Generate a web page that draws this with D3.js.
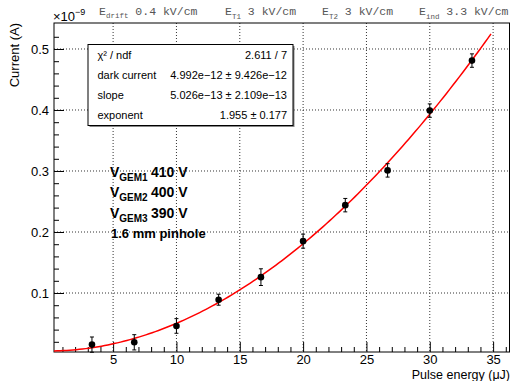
<!DOCTYPE html>
<html>
<head>
<meta charset="utf-8">
<script src="https://cdn.jsdelivr.net/npm/d3@7"></script>
<style>
  body { margin: 0; background: #fff; }
  svg { display: block; font-family: "Liberation Sans", Arial, sans-serif; }
</style>
</head>
<body>
<div id="chart"></div>
<script>
// measured points (current in units of 1e-9 A)
const energy = [3.33, 6.67, 10, 13.33, 16.67, 20, 23.33, 26.67, 30, 33.33];
const current = [0.0154, 0.0192, 0.046, 0.089, 0.126, 0.185, 0.244, 0.301, 0.399, 0.481];
const currentErr = [0.0125, 0.0125, 0.012, 0.009, 0.0137, 0.0115, 0.011, 0.011, 0.011, 0.011];

// fit parameters from the stats box: dark + slope * E^exponent
const fitParams = [4.992e-3, 5.026e-4, 1.955];
const fitRange = [0.333, 35];

const xTicks = [5, 10, 15, 20, 25, 30, 35];
const yTicks = [0.1, 0.2, 0.3, 0.4, 0.5];

const statsRows = [
  ["χ² / ndf", "2.611 / 7"],
  ["dark current", "4.992e−12 ± 9.426e−12"],
  ["slope", "5.026e−13 ± 2.109e−13"],
  ["exponent", "1.955 ± 0.177"]
];
const fields = [
  ["drift", "0.4 kV/cm"],
  ["T1", "3 kV/cm"],
  ["T2", "3 kV/cm"],
  ["ind", "3.3 kV/cm"]
];
const gemLines = [["GEM1", "410 V"], ["GEM2", "400 V"], ["GEM3", "390 V"]];

const width = 511, height = 381;
const margin = {top: 23, right: 1, bottom: 29, left: 54};
const w = width - margin.left - margin.right;
const h = height - margin.top - margin.bottom;

const svg = d3.select("#chart").append("svg")
  .attr("width", width)
  .attr("height", height);

const g = svg.append("g")
  .attr("transform", "translate(" + margin.left + "," + margin.top + ")");

const x = d3.scaleLinear().domain([0.333, 36.333]).range([0, w]);
const y = d3.scaleLinear().domain([0.0033, 0.5426]).range([h, 0]);

// grid
g.selectAll(".gx").data(xTicks).enter().append("line")
  .attr("x1", d => x(d)).attr("x2", d => x(d))
  .attr("y1", 0).attr("y2", h)
  .attr("stroke", "#333").attr("stroke-width", 1)
  .attr("stroke-dasharray", "1,2");
g.selectAll(".gy").data(yTicks).enter().append("line")
  .attr("y1", d => y(d)).attr("y2", d => y(d))
  .attr("x1", 0).attr("x2", w)
  .attr("stroke", "#333").attr("stroke-width", 1)
  .attr("stroke-dasharray", "1,2");

// minor ticks
const xMinor = d3.range(1, 37).filter(v => v % 5 !== 0);
const yMinor = d3.range(0.02, 0.54, 0.02).filter(v => Math.abs(v * 10 - Math.round(v * 10)) > 1e-6);

g.append("g")
  .attr("transform", "translate(0," + h + ")")
  .call(d3.axisBottom(x).tickValues(xMinor).tickSize(-5).tickFormat(""))
  .call(a => a.select(".domain").remove());
g.append("g")
  .call(d3.axisLeft(y).tickValues(yMinor).tickSize(-5).tickFormat(""))
  .call(a => a.select(".domain").remove());

// major ticks + labels
const xAxis = g.append("g")
  .attr("transform", "translate(0," + h + ")")
  .call(d3.axisBottom(x).tickValues(xTicks).tickSize(-10).tickPadding(3).tickFormat(d3.format("d")));
xAxis.select(".domain").remove();
xAxis.selectAll("text").attr("font-size", 13).attr("fill", "#000")
  .attr("font-family", "Liberation Sans, Arial, sans-serif");

const yAxis = g.append("g")
  .call(d3.axisLeft(y).tickValues(yTicks).tickSize(-10).tickPadding(5).tickFormat(d3.format(".1f")));
yAxis.select(".domain").remove();
yAxis.selectAll("text").attr("font-size", 13).attr("fill", "#000")
  .attr("font-family", "Liberation Sans, Arial, sans-serif");

// frame
g.append("rect")
  .attr("x", 0).attr("y", 0).attr("width", w - 0.5).attr("height", h)
  .attr("fill", "none").attr("stroke", "#000").attr("stroke-width", 1);

// stats box
const box = g.append("g").attr("transform", "translate(" + (88 - margin.left) + "," + (44.5 - margin.top) + ")");
box.append("rect")
  .attr("x", 1.5).attr("y", 1.5).attr("width", 205).attr("height", 81)
  .attr("fill", "#888");
box.append("rect")
  .attr("width", 205).attr("height", 81)
  .attr("fill", "#fff").attr("stroke", "#000").attr("stroke-width", 1);
statsRows.forEach((r, i) => {
  const ty = 14.5 + i * 20;
  box.append("text").attr("x", 9.5).attr("y", ty).attr("font-size", 11).text(r[0]);
  box.append("text").attr("x", 199).attr("y", ty).attr("font-size", 11)
    .attr("text-anchor", "end").text(r[1]);
});

// fit curve
const fitFn = e => fitParams[0] + fitParams[1] * Math.pow(e, fitParams[2]);
const fitX = d3.range(fitRange[0], fitRange[1] + 0.001, 0.25);
g.append("path")
  .datum(fitX)
  .attr("fill", "none").attr("stroke", "#ff0000").attr("stroke-width", 1.5)
  .attr("d", d3.line().x(d => x(d)).y(d => y(fitFn(d))));

// data points with errors
const pts = energy.map((e, i) => ({e: e, c: current[i], err: currentErr[i]}));
const pg = g.selectAll(".pt").data(pts).enter().append("g");
pg.append("line")
  .attr("x1", d => x(d.e)).attr("x2", d => x(d.e))
  .attr("y1", d => y(d.c - d.err)).attr("y2", d => y(d.c + d.err))
  .attr("stroke", "#000").attr("stroke-width", 1);
pg.append("line")
  .attr("x1", d => x(d.e) - 2).attr("x2", d => x(d.e) + 2)
  .attr("y1", d => y(d.c + d.err)).attr("y2", d => y(d.c + d.err))
  .attr("stroke", "#000").attr("stroke-width", 1);
pg.append("line")
  .attr("x1", d => x(d.e) - 2).attr("x2", d => x(d.e) + 2)
  .attr("y1", d => y(d.c - d.err)).attr("y2", d => y(d.c - d.err))
  .attr("stroke", "#000").attr("stroke-width", 1);
pg.append("circle")
  .attr("cx", d => x(d.e)).attr("cy", d => y(d.c)).attr("r", 3.3)
  .attr("fill", "#000");

// GEM annotation
gemLines.forEach((l, i) => {
  const t = svg.append("text")
    .attr("x", 110).attr("y", 176.5 + i * 20.5)
    .attr("font-weight", "bold").attr("font-size", 14);
  t.append("tspan").text("V");
  t.append("tspan").attr("font-size", 10).attr("dy", 4).text(l[0]);
  t.append("tspan").attr("font-size", 14).attr("dy", -4).attr("x", 151).text(l[1]);
});
svg.append("text")
  .attr("x", 111).attr("y", 238)
  .attr("font-weight", "bold").attr("font-size", 13)
  .text("1.6 mm pinhole");

// field header
const fx = [99, 225, 322, 419];
fields.forEach((f, i) => {
  const t = svg.append("text")
    .attr("x", fx[i]).attr("y", 15)
    .attr("font-family", "Liberation Mono, Courier New, monospace")
    .attr("font-size", 11.5).attr("fill", "#555");
  t.append("tspan").text("E");
  t.append("tspan").attr("font-size", 7.5).attr("dy", i === 0 ? 3 : 4).text(f[0]);
  t.append("tspan").attr("dy", i === 0 ? -3 : -4).text(" " + f[1]);
});

// exponent label
const ex = svg.append("text").attr("x", 53).attr("y", 21).attr("font-size", 13);
ex.append("tspan").text("×10");
ex.append("tspan").attr("font-size", 9).attr("dy", -6).text("−9");

// axis titles
svg.append("text")
  .attr("transform", "translate(19,23) rotate(-90)")
  .attr("text-anchor", "end").attr("font-size", 13)
  .text("Current (A)");
svg.append("text")
  .attr("x", 510).attr("y", 378.5)
  .attr("text-anchor", "end").attr("font-size", 12.5)
  .text("Pulse energy (μJ)");
</script>
</body>
</html>
